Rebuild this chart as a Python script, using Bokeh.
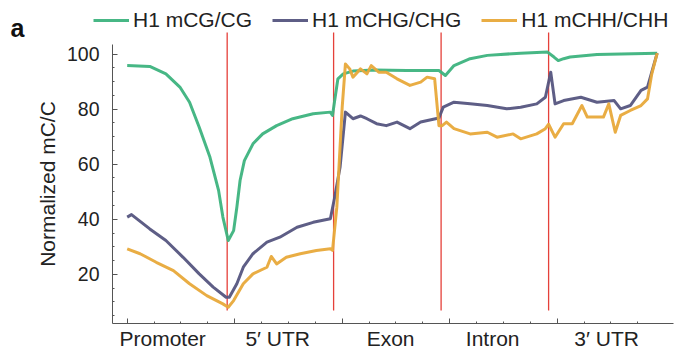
from bokeh.plotting import figure
from bokeh.models import (Range1d, LinearAxis, FixedTicker, Legend, LegendItem, Label)
from bokeh.embed import file_html
from bokeh.resources import INLINE

# ---- data ----
regions = ["Promoter", "5\u2032 UTR", "Exon", "Intron", "3\u2032 UTR"]
region_centers = [0.33, 1.40, 2.45, 3.40, 4.46]
boundaries = [0.93, 1.92, 2.92, 3.92]
series_names = ["H1 mCG/CG", "H1 mCHG/CHG", "H1 mCHH/CHH"]
panel_letter = "a"
y_ticks = [20, 40, 60, 80, 100]
x_ticks = [0, 1, 2, 3, 4]

x_cg = [0.0, 0.21, 0.36, 0.49, 0.58, 0.67, 0.77, 0.85, 0.89, 0.94,
        0.99, 1.02, 1.05, 1.09, 1.17, 1.26, 1.39, 1.54, 1.73, 1.89,
        1.91, 1.93, 1.96, 2.01, 2.10, 2.30, 2.60, 2.90, 2.96, 3.04,
        3.19, 3.35, 3.66, 3.91, 3.97, 4.01, 4.06, 4.12, 4.37, 4.93]
y_cg = [95.8, 95.5, 92.8, 88.0, 82.5, 73.4, 62.5, 50.5, 40.8, 32.3,
        35.9, 44.4, 54.1, 61.3, 67.4, 71.0, 74.0, 76.5, 78.3, 78.9,
        77.7, 83.1, 91.0, 92.8, 93.8, 94.2, 94.0, 94.0, 92.2, 95.8,
        98.3, 99.5, 100.3, 100.7, 98.9, 97.6, 98.3, 98.9, 99.8, 100.3]

x_chg = [0.0, 0.04, 0.21, 0.36, 0.52, 0.67, 0.80, 0.92, 0.95, 1.02,
         1.08, 1.17, 1.30, 1.42, 1.58, 1.73, 1.89, 1.93, 1.98, 2.03,
         2.10, 2.17, 2.23, 2.32, 2.41, 2.51, 2.63, 2.73, 2.90, 2.94,
         3.04, 3.19, 3.35, 3.53, 3.66, 3.81, 3.89, 3.94, 3.98, 4.06,
         4.22, 4.37, 4.53, 4.59, 4.68, 4.78, 4.84, 4.93]
y_chg = [40.8, 41.7, 36.5, 32.3, 26.2, 20.2, 15.4, 11.7, 11.7, 16.6,
         22.6, 27.5, 31.7, 33.5, 37.1, 38.9, 40.2, 48.0, 58.9, 78.9,
         76.5, 77.5, 76.5, 74.7, 74.0, 75.3, 72.9, 75.3, 76.8, 80.7,
         82.5, 81.9, 81.3, 80.1, 80.7, 81.9, 84.3, 93.4, 81.9, 83.1,
         84.3, 82.5, 83.1, 80.1, 81.3, 86.8, 88.0, 100.3]

x_chh = [0.0, 0.12, 0.27, 0.43, 0.58, 0.74, 0.89, 0.94, 0.99, 1.08,
         1.17, 1.30, 1.34, 1.39, 1.48, 1.61, 1.76, 1.89, 1.91, 1.95,
         2.00, 2.03, 2.07, 2.10, 2.17, 2.23, 2.27, 2.34, 2.41, 2.51,
         2.63, 2.73, 2.79, 2.86, 2.90, 2.93, 2.97, 3.04, 3.19, 3.35,
         3.44, 3.59, 3.66, 3.81, 3.89, 3.92, 3.98, 4.06, 4.14, 4.23,
         4.28, 4.43, 4.48, 4.54, 4.59, 4.68, 4.78, 4.84, 4.88, 4.93]
y_chh = [29.3, 27.5, 24.4, 21.4, 16.6, 12.3, 9.3, 8.1, 10.5, 16.6,
         20.2, 22.6, 26.5, 23.8, 26.2, 27.5, 28.7, 29.3, 28.7, 44.4,
         80.7, 96.4, 94.6, 91.6, 94.6, 92.8, 95.8, 93.4, 93.4, 91.0,
         88.6, 89.8, 91.6, 91.0, 74.0, 74.0, 75.3, 72.9, 71.0, 71.6,
         69.8, 71.0, 69.2, 71.0, 72.9, 74.5, 69.8, 74.7, 74.7, 81.3,
         77.1, 77.1, 81.9, 71.6, 77.7, 79.5, 81.3, 83.7, 92.8, 100.3]

FONT = "Liberation Sans"
colors = ["#3db37e", "#55557f", "#e8a93a"]
red = "#e5403a"
axis_col = "#555555"

W, H = 676, 351
XPX0, XPPU = 126.7, 107.5      # screen x of x=0, pixels per x unit
YPX0, YPPU = 329.0, 2.755      # screen y of y=0, pixels per y unit
X_LO, X_HI = -0.137, 5.08       # x axis line extent
Y_LO, Y_HI = 2.18, 103.4        # y axis line extent
RED_TOP = 107.8

p = figure(width=W, height=H, output_backend="svg", toolbar_location=None,
           x_range=Range1d(-XPX0 / XPPU, (W - XPX0) / XPPU),
           y_range=Range1d((YPX0 - H) / YPPU, YPX0 / YPPU),
           x_axis_type=None, y_axis_type=None,
           min_border_left=0, min_border_right=0, min_border_top=0,
           min_border_bottom=0)
p.outline_line_color = None
p.grid.visible = False
p.background_fill_color = "white"
p.border_fill_color = "white"

# red region boundaries
p.segment(x0=boundaries, x1=boundaries, y0=[6.9] * len(boundaries),
          y1=[RED_TOP] * len(boundaries), line_color=red, line_width=1.3)

renderers = []
for xs, ys, c in zip([x_cg, x_chg, x_chh], [y_cg, y_chg, y_chh], colors):
    r = p.line(xs, ys, line_color=c, line_width=3, line_join="round", line_alpha=0.95)
    renderers.append(r)

# y axis
yax = LinearAxis(ticker=FixedTicker(ticks=y_ticks,
                                    minor_ticks=[v for v in range(5, 105, 5)]),
                 bounds=(Y_LO, Y_HI), fixed_location=X_LO)
yax.axis_label = "Normalized mC/C"
yax.axis_label_text_font = FONT
yax.axis_label_text_font_size = "21px"
yax.axis_label_text_font_style = "normal"
yax.axis_label_text_color = "#222222"
yax.axis_label_standoff = 5
yax.major_label_text_font = FONT
yax.major_label_text_font_size = "19.5px"
yax.major_label_text_color = "#222222"
yax.major_label_standoff = 13
yax.major_tick_in = 5
yax.major_tick_out = 0
yax.minor_tick_in = 2
yax.minor_tick_out = 0
yax.axis_line_color = axis_col
yax.major_tick_line_color = axis_col
yax.minor_tick_line_color = axis_col
p.add_layout(yax, "left")

# x axis with ticks (labels empty; region names on the next axis)
xax = LinearAxis(ticker=FixedTicker(ticks=x_ticks,
                                    minor_ticks=[i * 0.25 for i in range(0, 20)]),
                 major_label_overrides={t: "" for t in x_ticks},
                 bounds=(X_LO, X_HI), fixed_location=Y_LO)
xax.major_label_text_font_size = "4px"
xax.major_label_standoff = 0
xax.major_tick_in = 5
xax.major_tick_out = 0
xax.minor_tick_in = 2
xax.minor_tick_out = 0
xax.axis_line_color = axis_col
xax.major_tick_line_color = axis_col
xax.minor_tick_line_color = axis_col
p.add_layout(xax, "below")

# region labels
lax = LinearAxis(ticker=FixedTicker(ticks=region_centers, minor_ticks=[]),
                 major_label_overrides={c: n for c, n in zip(region_centers, regions)},
                 fixed_location=Y_LO)
lax.axis_line_color = None
lax.major_tick_line_color = None
lax.minor_tick_line_color = None
lax.major_label_text_font = FONT
lax.major_label_text_font_size = "21px"
lax.major_label_text_color = "#222222"
lax.major_label_standoff = -2
p.add_layout(lax, "below")

legend = Legend(items=[LegendItem(label=n, renderers=[r]) for n, r in zip(series_names, renderers)],
                orientation="horizontal", location=(93, 319),
                label_text_font=FONT, label_text_font_size="21px",
                label_text_color="#222222",
                glyph_width=36, glyph_height=20, label_standoff=4, spacing=20,
                padding=0, margin=0, border_line_color=None,
                background_fill_alpha=0)
p.add_layout(legend, "center")

lab = Label(x=10, y=H - 27, x_units="screen", y_units="screen", text=panel_letter,
            text_font=FONT, text_font_size="25px", text_font_style="bold",
            text_color="#111111", text_align="left", text_baseline="alphabetic")
p.add_layout(lab)

open("out.html", "w").write(file_html(p, INLINE))
